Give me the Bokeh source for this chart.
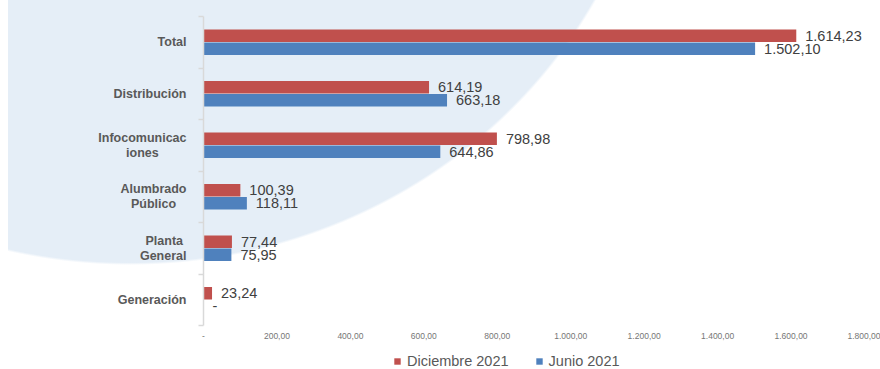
from bokeh.plotting import figure
from bokeh.layouts import column
from bokeh.models import (Range1d, LinearAxis, FixedTicker,
                          ColumnDataSource, LabelSet, Legend, LegendItem)
from bokeh.core.properties import value
from bokeh.transform import dodge
from bokeh.embed import file_html
from bokeh.resources import INLINE

# ---- data -------------------------------------------------------------
categories = ["Total", "Distribución", "Infocomunicaciones", "Alumbrado Público",
              "Planta General", "Generación"]
category_labels = ["Total", "Distribución", "Infocomunicac\niones", "Alumbrado\nPúblico",
                   "Planta\nGeneral", "Generación"]
diciembre_2021 = [1614.23, 614.19, 798.98, 100.39, 77.44, 23.24]
junio_2021 = [1502.10, 663.18, 644.86, 118.11, 75.95, 0.0]
series_names = ["Diciembre 2021", "Junio 2021"]
x_ticks = [0, 200, 400, 600, 800, 1000, 1200, 1400, 1600, 1800]
x_tick_labels = ["-", "200,00", "400,00", "600,00", "800,00", "1.000,00",
                 "1.200,00", "1.400,00", "1.600,00", "1.800,00"]


def es(v):
    if v == 0:
        return "-"
    s = f"{v:,.2f}"
    return s.replace(",", "X").replace(".", ",").replace("X", ".")


# approximate bold glyph widths (em) used to centre the lines of wrapped labels
_W = {"A": .722, "G": .778, "I": .278, "P": .667, "T": .611, "D": .722,
      "a": .556, "b": .611, "c": .556, "d": .611, "e": .556, "f": .333, "i": .278,
      "l": .278, "m": .889, "n": .611, "o": .611, "r": .389, "s": .556, "t": .333,
      "u": .611, "ú": .611, "ó": .611}
NBSP = "\u00a0"


def centre_lines(lbl):
    lines = lbl.split("\n")
    if len(lines) == 1:
        return lbl
    w = [sum(_W.get(c, .556) for c in ln) for ln in lines]
    m = max(w)
    return "\n".join(ln + NBSP * int(round((m - wi) / 2 / .278)) for ln, wi in zip(lines, w))


RED = "#c0504d"
BLUE = "#4f81bd"
FONT = "Liberation Sans"

n = len(categories)
ypos = [n - i - 0.5 for i in range(n)]   # first category at the top

src = ColumnDataSource(dict(
    y=ypos,
    dic=diciembre_2021,
    jun=junio_2021,
    dic_lbl=[es(v) for v in diciembre_2021],
    jun_lbl=[es(v) for v in junio_2021],
))

p = figure(width=880, height=349,
           y_range=Range1d(0, n),
           x_range=Range1d(0, x_ticks[-1]),
           x_axis_location=None, y_axis_location=None,
           output_backend="svg", toolbar_location=None,
           min_border_left=203, min_border_right=16,
           min_border_top=16, min_border_bottom=24,
           outline_line_color=None,
           background_fill_color=None, border_fill_color=None)
for g in p.grid:
    g.visible = False

# decorative light-blue swoosh behind the chart (page background)
p.styles = {"background": "linear-gradient(to right, #ffffff 8px, rgba(255,255,255,0) 8px), "
                          "radial-gradient(530px 505px at 130px -240px, #e5eef7 99.5%, #ffffff 100%)"}

# bars
r1 = p.hbar(y=dodge("y", 0.125), left=0, right="dic", height=0.245,
            fill_color=RED, line_color=None, source=src)
r2 = p.hbar(y=dodge("y", -0.125), left=0, right="jun", height=0.245,
            fill_color=BLUE, line_color=None, source=src)

# value labels
for fld, lbl, off in (("dic", "dic_lbl", 0.125), ("jun", "jun_lbl", -0.125)):
    p.add_layout(LabelSet(x=fld, y=dodge("y", off), text=lbl,
                          x_offset=9, text_baseline="middle", text_align="left",
                          text_font=value(FONT), text_font_size="14.5px",
                          text_color="#404040", source=src))

# x axis (labels only)
xaxis = LinearAxis(ticker=FixedTicker(ticks=x_ticks),
                   major_label_overrides={t_: l for t_, l in zip(x_ticks, x_tick_labels)},
                   axis_line_color=None, major_tick_line_color=None, minor_tick_line_color=None,
                   major_tick_out=0, major_tick_in=0, major_label_standoff=7,
                   major_label_text_font=FONT, major_label_text_font_size="8.5px",
                   major_label_text_color="#767676")
p.add_layout(xaxis, "below")

# y axis line with ticks at the category boundaries
tick_axis = LinearAxis(ticker=FixedTicker(ticks=list(range(n + 1))),
                       major_label_overrides={i: "" for i in range(n + 1)},
                       axis_line_color="#d9d9d9", axis_line_width=1.5,
                       major_tick_line_color="#d9d9d9", major_tick_line_width=1.5,
                       major_tick_out=5, major_tick_in=0, minor_tick_line_color=None,
                       major_label_standoff=0, major_label_text_font_size="1px")
p.add_layout(tick_axis, "left")

# category labels
cat_axis = LinearAxis(ticker=FixedTicker(ticks=ypos),
                      major_label_overrides={y: centre_lines(l) for y, l in zip(ypos, category_labels)},
                      axis_line_color=None, major_tick_line_color=None,
                      minor_tick_line_color=None,
                      major_tick_out=0, major_tick_in=0, major_label_standoff=12,
                      major_label_text_font=FONT, major_label_text_font_style="bold",
                      major_label_text_font_size="12.5px",
                      major_label_text_color="#595959",
                      major_label_text_line_height=1.05)
p.add_layout(cat_axis, "left")

# legend strip under the chart (its frame is aligned with the chart frame)
pl = figure(width=880, height=20, x_range=Range1d(0, x_ticks[-1]), y_range=Range1d(0, 1),
            x_axis_location=None, y_axis_location=None,
            output_backend="svg", toolbar_location=None,
            min_border=0, outline_line_color=None,
            background_fill_color=None, border_fill_color=None)
for g in pl.grid:
    g.visible = False
k1 = pl.hbar(y=dodge("y", 0.125), left=0, right="dic", height=0.245,
             fill_color=RED, line_color=None, source=src, visible=False)
k2 = pl.hbar(y=dodge("y", -0.125), left=0, right="jun", height=0.245,
             fill_color=BLUE, line_color=None, source=src, visible=False)
legend = Legend(items=[LegendItem(label=series_names[0], renderers=[k1]),
                       LegendItem(label=series_names[1], renderers=[k2])],
                location=(190, 0), orientation="horizontal",
                glyph_width=8, glyph_height=8, label_standoff=6, spacing=26,
                padding=0, margin=0, label_height=16,
                border_line_color=None, background_fill_alpha=0,
                inactive_fill_alpha=0,
                label_text_font=FONT, label_text_font_size="14.5px",
                label_text_color="#595959")
pl.add_layout(legend, "center")

layout = column(p, pl, spacing=0)
open("out.html", "w").write(file_html(layout, INLINE))
